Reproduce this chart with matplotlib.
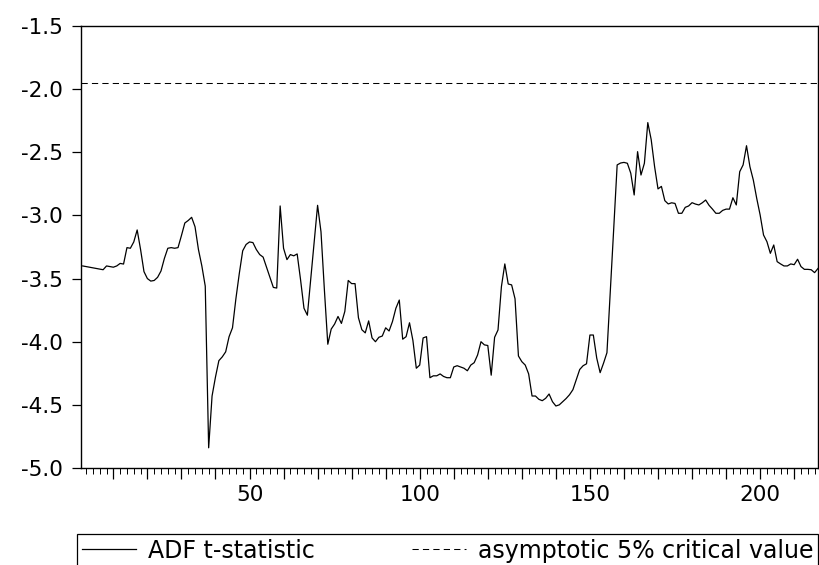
import matplotlib
matplotlib.use("Agg")
import matplotlib.pyplot as plt
from matplotlib.ticker import MultipleLocator

plt.rcParams['font.family'] = ['DejaVu Sans']
plt.rcParams['axes.unicode_minus'] = False

adf_t = [
    -3.40, -3.405, -3.41, -3.415, -3.42, -3.425, -3.43, -3.40, -3.405, -3.41,
    -3.40, -3.38, -3.385, -3.255, -3.26, -3.21, -3.115, -3.27, -3.445, -3.50,
    -3.52, -3.515, -3.49, -3.44, -3.34, -3.26, -3.255, -3.26, -3.255, -3.16,
    -3.06, -3.04, -3.015, -3.09, -3.27, -3.40, -3.56, -4.84, -4.43,
    -4.28, -4.15, -4.12, -4.08, -3.96, -3.89, -3.66, -3.46, -3.28, -3.23, -3.21,
    -3.215, -3.27, -3.31, -3.33, -3.41, -3.49, -3.57, -3.575, -2.925, -3.26,
    -3.35, -3.31, -3.32, -3.305, -3.51, -3.735, -3.79, -3.50, -3.21, -2.92,
    -3.13, -3.59, -4.02, -3.90, -3.86, -3.80, -3.855, -3.76, -3.515, -3.54,
    -3.54, -3.81, -3.905, -3.93, -3.835, -3.97, -4.00, -3.965, -3.955, -3.89,
    -3.915, -3.84, -3.735, -3.67, -3.98, -3.96, -3.85, -3.99, -4.21, -4.185,
    -3.97, -3.96, -4.285, -4.27, -4.27, -4.255, -4.275, -4.285, -4.285, -4.20,
    -4.19, -4.20, -4.21, -4.23, -4.185, -4.166, -4.105, -4.00, -4.025, -4.03,
    -4.265, -3.965, -3.907, -3.564, -3.384, -3.543, -3.55, -3.66, -4.113, -4.158,
    -4.185, -4.255, -4.43, -4.43, -4.456, -4.467, -4.448, -4.414, -4.475, -4.509,
    -4.50, -4.475, -4.45, -4.42, -4.38, -4.30, -4.22, -4.19, -4.175, -3.947,
    -3.947, -4.13, -4.245, -4.17, -4.087, -3.60, -3.10, -2.60, -2.585, -2.58,
    -2.587, -2.666, -2.838, -2.495, -2.68, -2.587, -2.265, -2.40, -2.614, -2.79,
    -2.77, -2.883, -2.909, -2.90, -2.905, -2.983, -2.983, -2.936, -2.925, -2.899,
    -2.91, -2.917, -2.90, -2.878, -2.92, -2.95, -2.983, -2.983, -2.96, -2.95,
    -2.95, -2.86, -2.917, -2.654, -2.60, -2.448, -2.614, -2.72, -2.865, -2.996,
    -3.155, -3.208, -3.30, -3.234, -3.366, -3.384, -3.40, -3.40, -3.384, -3.39,
    -3.347, -3.405, -3.427, -3.427, -3.43, -3.453, -3.42,
]
obs = list(range(1, len(adf_t) + 1))
crit_5pct = -1.95

y_ticks = [-5.0, -4.5, -4.0, -3.5, -3.0, -2.5, -2.0, -1.5]
x_major = list(range(10, 220, 10))
x_labels = [str(t) if t % 50 == 0 else '' for t in x_major]

fig = plt.figure(figsize=(8.19, 5.65), dpi=100)
ax = fig.add_axes([81 / 819, 1 - 468 / 565, (818 - 81) / 819, (468 - 26) / 565])

line_adf, = ax.plot(obs, adf_t, color='black', lw=0.9)
line_crit = ax.axhline(crit_5pct, color='black', lw=0.75, dashes=(6, 4))

ax.set_xlim(0.5, 217)
ax.set_ylim(-5.0, -1.5)
ax.set_yticks(y_ticks, labels=[f"{v:.1f}" for v in y_ticks])
ax.set_xticks(x_major, labels=x_labels)
ax.xaxis.set_minor_locator(MultipleLocator(2))

for s in ax.spines.values():
    s.set_linewidth(1.0)
ax.tick_params(axis='y', direction='out', length=6.5, width=0.9, pad=6.5, labelsize=15.5)
ax.tick_params(axis='x', which='major', direction='out', length=8, width=0.9, pad=4, labelsize=15.5)
ax.tick_params(axis='x', which='minor', direction='out', length=4.5, width=0.7)

# legend box spans to the right edge, as in the reference
leg = fig.legend([line_adf, line_crit], ['ADF t-statistic', 'asymptotic 5% critical value'],
                 loc='upper left', bbox_to_anchor=(77 / 819, 1 - 534 / 565, (818 - 77) / 819, 0),
                 mode='expand', ncol=2,
                 frameon=True, fancybox=False, edgecolor='black', framealpha=1,
                 fontsize=17, handlelength=2.3, handletextpad=0.5, columnspacing=2.0,
                 borderpad=0.2, borderaxespad=0)
leg.get_frame().set_linewidth(0.9)

fig.savefig('out.png', dpi=100)
